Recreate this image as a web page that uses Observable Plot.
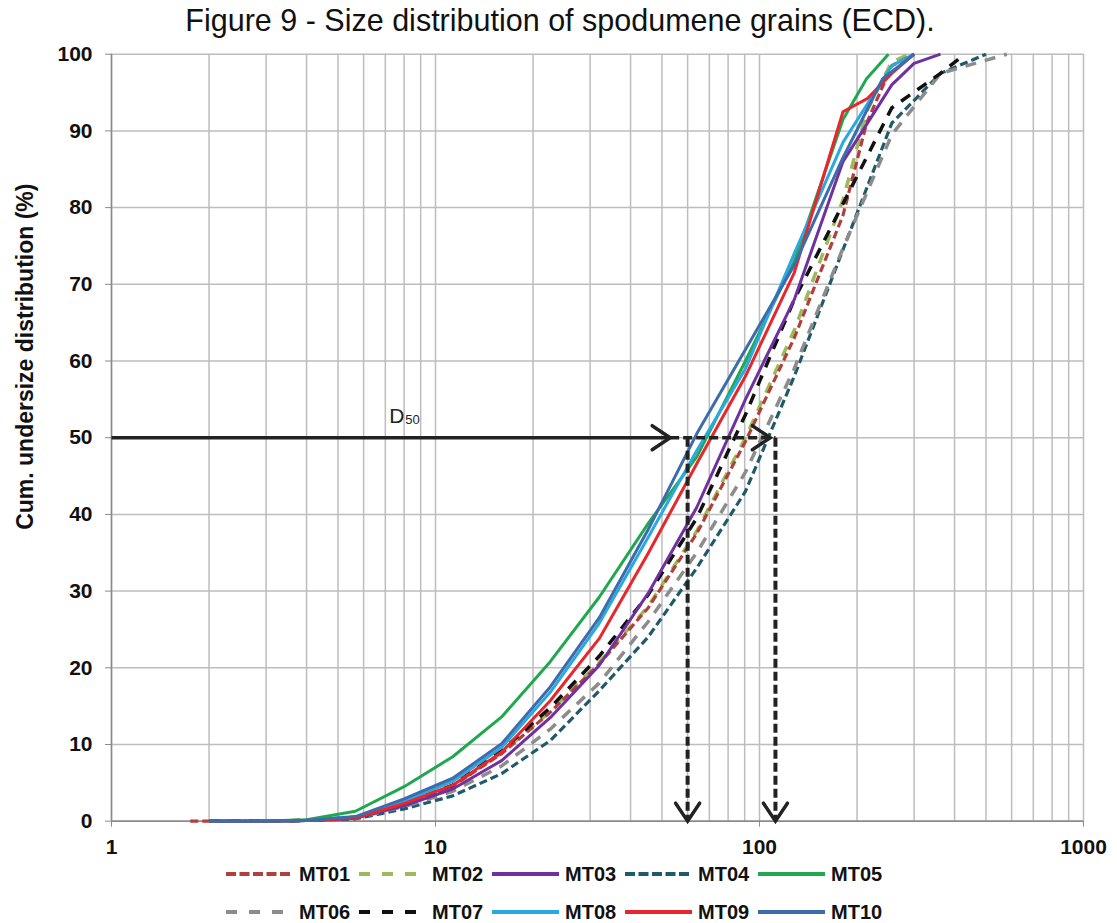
<!DOCTYPE html>
<html>
<head>
<meta charset="utf-8">
<script src="https://cdn.jsdelivr.net/npm/d3@7"></script>
<script src="https://cdn.jsdelivr.net/npm/@observablehq/plot@0.6"></script>
<style>
  body { margin: 0; background: #fff; font-family: "Liberation Sans", Arial, sans-serif; }
  #wrap { position: relative; width: 1117px; height: 923px; overflow: hidden; background: #fff; }
  #title { position: absolute; left: 0; top: 0; width: 1120px; text-align: center; font-size: 30.5px; line-height: 40px; color: #111; }
  #chart { position: absolute; left: 0; top: 40px; }
  #legend { position: absolute; left: 0; top: 860px; width: 1117px; height: 63px; }
  .item { position: absolute; height: 24px; display: flex; align-items: center; }
  .item span { font-weight: bold; font-size: 20px; color: #111; margin-left: 6px; }
</style>
</head>
<body>
<div id="wrap">
  <div id="title"></div>
  <div id="chart"></div>
  <div id="legend"></div>
</div>
<script>
// ---- data: [size (µm), cumulative undersize (%)] ----
const MT01 = [[1.75,0],[2,0],[2.83,0],[4,0.1],[5.66,0.4],[8,2.2],[11.3,4.6],[16,8.8],[22.6,14.2],[32,20.5],[45.3,27.8],[64,37.5],[90.5,49.5],[128,63],[181,79],[214,91],[256,98.5],[300,100]];
const MT02 = [[2,0],[2.83,0],[4,0.1],[5.66,0.4],[8,2.2],[11.3,4.6],[16,8.9],[22.6,14.3],[32,20.7],[45.3,28],[64,37.8],[90.5,50],[128,64],[181,81],[214,92.5],[256,99],[290,100]];
const MT03 = [[2,0],[2.83,0],[4,0.1],[5.66,0.4],[8,2.0],[11.3,4.2],[16,7.9],[22.6,13.5],[32,20.3],[45.3,29.7],[64,40.9],[90.5,55],[128,68],[181,86],[256,96],[300,98.8],[362,100]];
const MT04 = [[2,0],[2.83,0],[4,0.1],[5.66,0.3],[8,1.6],[11.3,3.3],[16,6.2],[22.6,10.5],[32,17],[45.3,24],[64,33],[90.5,43],[128,58],[181,74.5],[256,91],[362,97.5],[500,100]];
const MT05 = [[2,0],[2.83,0],[4,0.2],[5.66,1.3],[8,4.5],[11.3,8.4],[16,13.6],[22.6,20.8],[32,29.2],[45.3,38.8],[64,47.5],[90.5,60],[128,73],[181,91.5],[214,96.8],[250,100]];
const MT06 = [[2,0],[2.83,0],[4,0.1],[5.66,0.4],[8,1.9],[11.3,3.9],[16,7.2],[22.6,12],[32,18],[45.3,26],[64,35],[90.5,45.5],[128,59],[181,74.7],[256,89.5],[362,97.5],[580,100]];
const MT07 = [[2,0],[2.83,0],[4,0.1],[5.66,0.5],[8,2.3],[11.3,4.7],[16,9.2],[22.6,14.8],[32,21.5],[45.3,29.5],[64,39.5],[90.5,53],[128,68],[181,80.5],[256,93],[362,97.5],[430,100]];
const MT08 = [[2,0],[2.83,0],[4,0.1],[5.66,0.5],[8,2.6],[11.3,5.2],[16,9.6],[22.6,16.8],[32,25.8],[45.3,37],[64,48.3],[90.5,59],[128,74],[181,88.5],[256,98.5],[300,100]];
const MT09 = [[2,0],[2.83,0],[4,0.1],[5.66,0.4],[8,2.3],[11.3,4.7],[16,9.0],[22.6,15.7],[32,23.8],[45.3,34.9],[64,46.6],[90.5,58],[128,71.5],[181,92.5],[215,94.2],[256,97.5],[300,100]];
const MT10 = [[2,0],[2.83,0],[4,0.1],[5.66,0.6],[8,2.9],[11.3,5.6],[16,10.1],[22.6,17.5],[32,26.5],[45.3,38],[64,50.5],[90.5,61.5],[128,72.5],[181,86.5],[240,96.8],[300,100]];

const seriesNames = ["MT01","MT02","MT03","MT04","MT05","MT06","MT07","MT08","MT09","MT10"];
const seriesData = {MT01, MT02, MT03, MT04, MT05, MT06, MT07, MT08, MT09, MT10};
const drawOrder = ["MT02","MT01","MT04","MT06","MT07","MT03","MT05","MT08","MT09","MT10"];
const legendRows = [["MT01","MT02","MT03","MT04","MT05"],["MT06","MT07","MT08","MT09","MT10"]];

// ticks / labels
const xTickLabels = [1, 10, 100, 1000];
const xGrid = [1,2,3,4,5,6,7,8,9,10,20,30,40,50,60,70,80,90,100,200,300,400,500,600,700,800,900,1000];
const yTicks = [0,10,20,30,40,50,60,70,80,90,100];
const yGrid = [10,20,30,40,50,60,70,80,90,100];
const titleText = "Figure 9 - Size distribution of spodumene grains (ECD).";
const yLabel = "Cum. undersize distribution (%)";

// D50 annotation values
const level = 50;
const arrowStart = 1;
const arrowTip = 53;
const d50Min = 60;
const d50Max = 112;
const d50SecondTip = 108;
const d50LabelX = 7.2;
const d50LabelY = 52.8;

// ---- styles ----
const styles = {
  MT01: {color: "#b23f3c", dash: "8,4", width: 3.2},
  MT02: {color: "#9bbb59", dash: "11,9", width: 3.5},
  MT03: {color: "#7030a0", dash: null, width: 3},
  MT04: {color: "#1f5a6a", dash: "8,4", width: 3.2},
  MT05: {color: "#1fa84f", dash: null, width: 3},
  MT06: {color: "#8c8c8c", dash: "11,9", width: 3.5},
  MT07: {color: "#111111", dash: "11,9", width: 3.5},
  MT08: {color: "#2aa8e0", dash: null, width: 3},
  MT09: {color: "#e8262b", dash: null, width: 3},
  MT10: {color: "#3c6cab", dash: null, width: 3}
};

const vHead = {
  draw(context, l) {
    context.moveTo(-12, 18 - l);
    context.lineTo(0, -l);
    context.lineTo(12, 18 - l);
  }
};

const lineMarks = drawOrder.map(name => Plot.line(seriesData[name], {
  x: d => d[0], y: d => d[1],
  stroke: styles[name].color,
  strokeWidth: styles[name].width,
  strokeDasharray: styles[name].dash || undefined,
  strokeLinejoin: "round",
  strokeLinecap: "butt"
}));

const plot = Plot.plot({
  width: 1117,
  height: 820,
  marginTop: 13.7,
  marginBottom: 39.3,
  marginLeft: 111,
  marginRight: 34,
  style: {fontFamily: "'Liberation Sans', Arial, sans-serif", background: "transparent", color: "#111", overflow: "visible"},
  x: {type: "log", domain: [1, 1000]},
  y: {domain: [0, 100]},
  marks: [
    Plot.gridX(xGrid, {stroke: "#bdbdbd", strokeOpacity: 1, strokeWidth: 1.5}),
    Plot.gridY(yGrid, {stroke: "#bdbdbd", strokeOpacity: 1, strokeWidth: 1.5}),
    Plot.ruleX([arrowStart], {stroke: "#8a8a8a", strokeWidth: 1.5}),
    Plot.ruleY([0], {stroke: "#8a8a8a", strokeWidth: 1.8}),
    Plot.axisY(yTicks, {anchor: "left", tickSize: 6, tickPadding: 13, fontSize: 21, fontWeight: "bold", stroke: "#8a8a8a", label: null}),
    Plot.axisX(xTickLabels, {anchor: "bottom", tickSize: 6, tickPadding: 12, fontSize: 21, fontWeight: "bold", stroke: "#8a8a8a", label: null, tickFormat: d => String(d)}),
    Plot.text([yLabel], {frameAnchor: "left", text: d => d, rotate: -90, textAnchor: "middle", dx: -86, dy: -81, fontSize: 23, fontWeight: "bold"}),
    ...lineMarks,
    // D50 annotation
    Plot.link([level], {x1: () => arrowStart, x2: () => arrowTip, y1: d => d, y2: d => d, stroke: "#222", strokeWidth: 3.5}),
    Plot.link([level], {x1: () => arrowTip, x2: () => d50Max, y1: d => d, y2: d => d, stroke: "#222", strokeWidth: 3.5, strokeDasharray: "9,4"}),
    Plot.link([d50Min, d50Max], {x1: d => d, x2: d => d, y1: () => level, y2: () => 0.4, stroke: "#222", strokeWidth: 4, strokeDasharray: "9,4"}),
    Plot.vector([arrowTip, d50SecondTip], {x: d => d, y: () => level, length: 20, rotate: 90, anchor: "end", shape: vHead, stroke: "#222", strokeWidth: 3.5, strokeLinejoin: "miter"}),
    Plot.vector([d50Min, d50Max], {x: d => d, y: () => 0, length: 20, rotate: 180, anchor: "end", shape: vHead, stroke: "#222", strokeWidth: 3.5, strokeLinejoin: "miter"}),
    Plot.text(["D"], {x: () => d50LabelX, y: () => d50LabelY, text: d => d, textAnchor: "start", fontSize: 21, fill: "#222"}),
    Plot.text(["50"], {x: () => d50LabelX, y: () => d50LabelY, text: d => d, textAnchor: "start", dx: 16, dy: 4, fontSize: 13, fill: "#222"})
  ]
});
document.getElementById("chart").appendChild(plot);
document.getElementById("title").textContent = titleText;

// ---- legend ----
const legend = document.getElementById("legend");
legendRows.forEach((row, r) => {
  row.forEach((name, i) => {
    const s = styles[name];
    const item = document.createElement("div");
    item.className = "item";
    item.style.left = (226 + 133 * i) + "px";
    item.style.top = (r === 0 ? 2 : 40) + "px";
    const svgNS = "http://www.w3.org/2000/svg";
    const svg = document.createElementNS(svgNS, "svg");
    svg.setAttribute("width", 67);
    svg.setAttribute("height", 10);
    const ln = document.createElementNS(svgNS, "line");
    ln.setAttribute("x1", 0); ln.setAttribute("x2", 67);
    ln.setAttribute("y1", 5); ln.setAttribute("y2", 5);
    ln.setAttribute("stroke", s.color);
    ln.setAttribute("stroke-width", 4);
    if (s.dash) ln.setAttribute("stroke-dasharray", s.dash === "8,4" ? "10,3.5" : "11,12");
    svg.appendChild(ln);
    const sp = document.createElement("span");
    sp.textContent = name;
    item.appendChild(svg);
    item.appendChild(sp);
    legend.appendChild(item);
  });
});
</script>
</body>
</html>
